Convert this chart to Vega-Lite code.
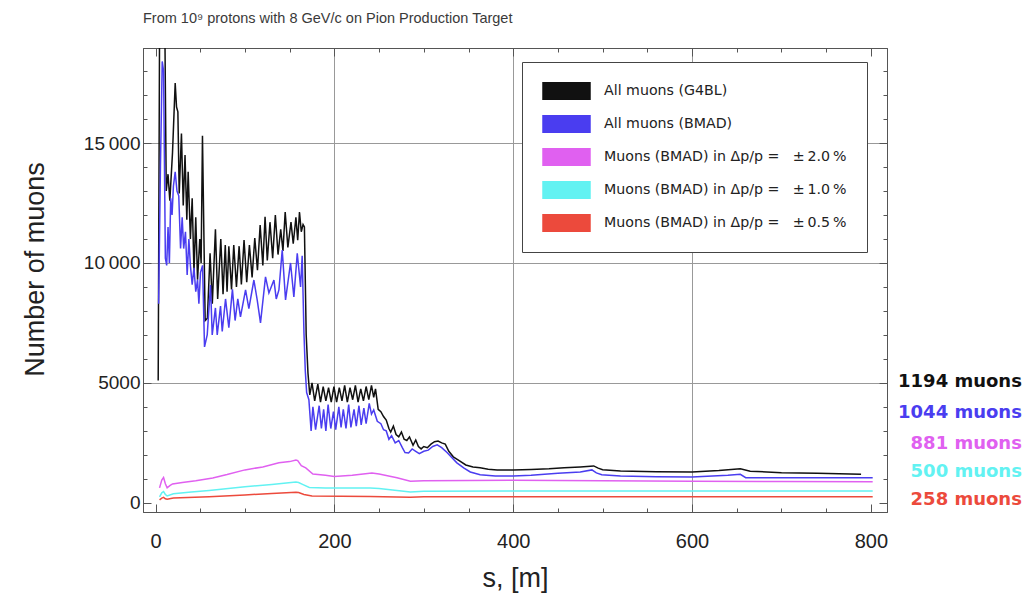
{
  "$schema": "https://vega.github.io/schema/vega-lite/v6.json",
  "width": 744,
  "height": 464,
  "autosize": {"type": "none"},
  "padding": {"left": 143, "top": 48, "right": 138, "bottom": 82},
  "background": "white",
  "config": {"view": {"stroke": "#555", "strokeWidth": 1}, "font": "Liberation Sans"},
  "title": {"text": "From 10⁹ protons with 8 GeV/c on Pion Production Target", "anchor": "start", "frame": "group", "fontSize": 14.5, "fontWeight": "normal", "color": "#3a3a3a", "font": "Liberation Sans", "baseline": "bottom", "offset": 7},
  "datasets": {
    "curves": [
      {"k":"G4BL","s":3,"n":5100},{"k":"G4BL","s":4.5,"n":19500},{"k":"G4BL","s":8,"n":19500},{"k":"G4BL","s":10.5,"n":19500},{"k":"G4BL","s":12,"n":13000},{"k":"G4BL","s":14,"n":13700},{"k":"G4BL","s":16,"n":12600},{"k":"G4BL","s":19,"n":14600},{"k":"G4BL","s":22,"n":17500},{"k":"G4BL","s":23.5,"n":16500},{"k":"G4BL","s":25,"n":16300},{"k":"G4BL","s":26.5,"n":12900},{"k":"G4BL","s":29,"n":15400},{"k":"G4BL","s":31,"n":12400},{"k":"G4BL","s":33,"n":14500},{"k":"G4BL","s":35,"n":11800},{"k":"G4BL","s":36.5,"n":13800},{"k":"G4BL","s":39,"n":11000},{"k":"G4BL","s":41,"n":12700},{"k":"G4BL","s":43,"n":9600},{"k":"G4BL","s":45,"n":11900},{"k":"G4BL","s":47,"n":9300},{"k":"G4BL","s":49.5,"n":11000},{"k":"G4BL","s":51,"n":10000},{"k":"G4BL","s":52.5,"n":15300},{"k":"G4BL","s":55.5,"n":7600},
      {"k":"G4BL","s":58,"n":7700},{"k":"G4BL","s":61,"n":10400},{"k":"G4BL","s":63.5,"n":8300},{"k":"G4BL","s":67,"n":11400},{"k":"G4BL","s":69.5,"n":8500},{"k":"G4BL","s":73,"n":11000},{"k":"G4BL","s":75.5,"n":8700},{"k":"G4BL","s":78,"n":10750},{"k":"G4BL","s":80,"n":8800},{"k":"G4BL","s":82,"n":10700},{"k":"G4BL","s":85,"n":8900},{"k":"G4BL","s":87.5,"n":10750},{"k":"G4BL","s":90.5,"n":9000},{"k":"G4BL","s":93.5,"n":10700},{"k":"G4BL","s":96,"n":9100},{"k":"G4BL","s":99,"n":10960},{"k":"G4BL","s":102,"n":9200},{"k":"G4BL","s":105,"n":10750},{"k":"G4BL","s":108,"n":9400},{"k":"G4BL","s":111,"n":11040},{"k":"G4BL","s":114,"n":9700},{"k":"G4BL","s":117,"n":11580},{"k":"G4BL","s":120,"n":9900},{"k":"G4BL","s":122.5,"n":11920},{"k":"G4BL","s":125,"n":10100},{"k":"G4BL","s":128,"n":11700},{"k":"G4BL","s":131,"n":10200},{"k":"G4BL","s":134,"n":12000},{"k":"G4BL","s":137,"n":10350},{"k":"G4BL","s":140,"n":11400},{"k":"G4BL","s":142.5,"n":10500},{"k":"G4BL","s":145,"n":12125},{"k":"G4BL","s":148,"n":10650},{"k":"G4BL","s":151.5,"n":11700},{"k":"G4BL","s":154,"n":10800},{"k":"G4BL","s":157,"n":11900},{"k":"G4BL","s":159,"n":10950},{"k":"G4BL","s":161,"n":12125},{"k":"G4BL","s":163,"n":11300},{"k":"G4BL","s":165,"n":11600},{"k":"G4BL","s":166.5,"n":11500},
      {"k":"G4BL","s":168.5,"n":7000},{"k":"G4BL","s":170.5,"n":5400},{"k":"G4BL","s":172.5,"n":4500},{"k":"G4BL","s":175,"n":5000},{"k":"G4BL","s":178,"n":4250},{"k":"G4BL","s":181.5,"n":4950},{"k":"G4BL","s":184.5,"n":4200},{"k":"G4BL","s":187.5,"n":4850},{"k":"G4BL","s":190.5,"n":4250},{"k":"G4BL","s":193.5,"n":4800},{"k":"G4BL","s":196.5,"n":4200},{"k":"G4BL","s":199.5,"n":4850},{"k":"G4BL","s":202.5,"n":4200},{"k":"G4BL","s":205.5,"n":4800},{"k":"G4BL","s":208.5,"n":4250},{"k":"G4BL","s":211.5,"n":4900},{"k":"G4BL","s":214.5,"n":4200},{"k":"G4BL","s":217.5,"n":4800},{"k":"G4BL","s":220.5,"n":4300},{"k":"G4BL","s":223.5,"n":4900},{"k":"G4BL","s":226.5,"n":4200},{"k":"G4BL","s":229.5,"n":4750},{"k":"G4BL","s":232.5,"n":4250},{"k":"G4BL","s":235.5,"n":4850},{"k":"G4BL","s":238.5,"n":4300},{"k":"G4BL","s":241.5,"n":4900},{"k":"G4BL","s":244,"n":4400},{"k":"G4BL","s":246,"n":4750},
      {"k":"G4BL","s":249,"n":3900},{"k":"G4BL","s":252,"n":3800},{"k":"G4BL","s":255,"n":3600},{"k":"G4BL","s":258,"n":3450},{"k":"G4BL","s":261,"n":3100},{"k":"G4BL","s":263,"n":2950},{"k":"G4BL","s":266,"n":3200},{"k":"G4BL","s":269,"n":2850},{"k":"G4BL","s":272,"n":2750},{"k":"G4BL","s":275,"n":2950},{"k":"G4BL","s":278,"n":2650},{"k":"G4BL","s":281,"n":2600},{"k":"G4BL","s":284,"n":2750},{"k":"G4BL","s":288,"n":2400},{"k":"G4BL","s":291,"n":2620},{"k":"G4BL","s":294,"n":2350},{"k":"G4BL","s":297,"n":2250},{"k":"G4BL","s":300,"n":2350},{"k":"G4BL","s":304,"n":2300},{"k":"G4BL","s":308,"n":2450},{"k":"G4BL","s":312,"n":2550},{"k":"G4BL","s":316,"n":2580},{"k":"G4BL","s":320,"n":2500},{"k":"G4BL","s":324,"n":2450},{"k":"G4BL","s":328,"n":2150},{"k":"G4BL","s":333,"n":1920},{"k":"G4BL","s":340,"n":1750},{"k":"G4BL","s":347,"n":1580},{"k":"G4BL","s":355,"n":1500},{"k":"G4BL","s":363,"n":1460},{"k":"G4BL","s":372,"n":1400},{"k":"G4BL","s":382,"n":1375},{"k":"G4BL","s":400,"n":1370},{"k":"G4BL","s":420,"n":1390},{"k":"G4BL","s":440,"n":1420},{"k":"G4BL","s":457,"n":1460},{"k":"G4BL","s":475,"n":1500},{"k":"G4BL","s":490,"n":1540},{"k":"G4BL","s":495,"n":1450},{"k":"G4BL","s":500,"n":1380},{"k":"G4BL","s":520,"n":1330},{"k":"G4BL","s":560,"n":1300},{"k":"G4BL","s":600,"n":1290},{"k":"G4BL","s":630,"n":1350},{"k":"G4BL","s":654,"n":1420},{"k":"G4BL","s":665,"n":1320},{"k":"G4BL","s":700,"n":1260},{"k":"G4BL","s":740,"n":1230},{"k":"G4BL","s":789,"n":1194},
      {"k":"BMAD","s":3.5,"n":8300},{"k":"BMAD","s":5.5,"n":14000},{"k":"BMAD","s":7.5,"n":18400},{"k":"BMAD","s":9,"n":18000},{"k":"BMAD","s":11,"n":10200},{"k":"BMAD","s":12.5,"n":9900},{"k":"BMAD","s":14,"n":11500},{"k":"BMAD","s":15.5,"n":10000},{"k":"BMAD","s":17,"n":12700},{"k":"BMAD","s":18.5,"n":12000},{"k":"BMAD","s":20,"n":13200},{"k":"BMAD","s":22,"n":13800},{"k":"BMAD","s":24,"n":13000},{"k":"BMAD","s":26,"n":12800},{"k":"BMAD","s":28,"n":10600},{"k":"BMAD","s":29.8,"n":11900},{"k":"BMAD","s":31.5,"n":10600},{"k":"BMAD","s":33.5,"n":11300},{"k":"BMAD","s":35.4,"n":9500},{"k":"BMAD","s":37.3,"n":11000},{"k":"BMAD","s":39,"n":9900},{"k":"BMAD","s":41,"n":9100},{"k":"BMAD","s":43,"n":9800},{"k":"BMAD","s":45,"n":8800},{"k":"BMAD","s":47,"n":9300},{"k":"BMAD","s":48.5,"n":8300},{"k":"BMAD","s":50.3,"n":9600},{"k":"BMAD","s":52.6,"n":9900},{"k":"BMAD","s":54.8,"n":6500},
      {"k":"BMAD","s":57.8,"n":7000},{"k":"BMAD","s":61.5,"n":9080},{"k":"BMAD","s":63.4,"n":7000},{"k":"BMAD","s":67,"n":8125},{"k":"BMAD","s":69,"n":7000},{"k":"BMAD","s":72.7,"n":8200},{"k":"BMAD","s":74.6,"n":7150},{"k":"BMAD","s":78.3,"n":8500},{"k":"BMAD","s":82,"n":7300},{"k":"BMAD","s":86,"n":8900},{"k":"BMAD","s":89,"n":7600},{"k":"BMAD","s":92,"n":8500},{"k":"BMAD","s":95,"n":7750},{"k":"BMAD","s":100.7,"n":8875},{"k":"BMAD","s":104.4,"n":8100},{"k":"BMAD","s":110,"n":9290},{"k":"BMAD","s":113.7,"n":8460},{"k":"BMAD","s":117.4,"n":7500},{"k":"BMAD","s":123,"n":9420},{"k":"BMAD","s":126.8,"n":8750},{"k":"BMAD","s":132.4,"n":9290},{"k":"BMAD","s":135,"n":8500},{"k":"BMAD","s":138,"n":8875},{"k":"BMAD","s":141.7,"n":10540},{"k":"BMAD","s":145.4,"n":8460},{"k":"BMAD","s":151,"n":10000},{"k":"BMAD","s":154.7,"n":8580},{"k":"BMAD","s":158.5,"n":10400},{"k":"BMAD","s":162.2,"n":9000},{"k":"BMAD","s":164,"n":10300},{"k":"BMAD","s":166,"n":7080},{"k":"BMAD","s":167.5,"n":5500},{"k":"BMAD","s":169,"n":4600},
      {"k":"BMAD","s":171.5,"n":4300},{"k":"BMAD","s":174,"n":3000},{"k":"BMAD","s":176,"n":4000},{"k":"BMAD","s":179,"n":3050},{"k":"BMAD","s":183,"n":4050},{"k":"BMAD","s":185.5,"n":3100},{"k":"BMAD","s":188,"n":3900},{"k":"BMAD","s":190.5,"n":3000},{"k":"BMAD","s":193,"n":4100},{"k":"BMAD","s":196,"n":3100},{"k":"BMAD","s":199,"n":3800},{"k":"BMAD","s":201.5,"n":3050},{"k":"BMAD","s":205,"n":4000},{"k":"BMAD","s":207.5,"n":3150},{"k":"BMAD","s":210,"n":3900},{"k":"BMAD","s":213,"n":3100},{"k":"BMAD","s":216,"n":4100},{"k":"BMAD","s":218.5,"n":3150},{"k":"BMAD","s":222,"n":3900},{"k":"BMAD","s":224.5,"n":3200},{"k":"BMAD","s":227.5,"n":4050},{"k":"BMAD","s":230,"n":3250},{"k":"BMAD","s":233,"n":3950},{"k":"BMAD","s":235.5,"n":3300},{"k":"BMAD","s":239,"n":4150},{"k":"BMAD","s":241.5,"n":3700},{"k":"BMAD","s":244,"n":3875},
      {"k":"BMAD","s":248,"n":3400},{"k":"BMAD","s":252,"n":3300},{"k":"BMAD","s":255,"n":3050},{"k":"BMAD","s":258,"n":3000},{"k":"BMAD","s":261,"n":2650},{"k":"BMAD","s":264,"n":2800},{"k":"BMAD","s":268,"n":2500},{"k":"BMAD","s":272,"n":2600},{"k":"BMAD","s":276,"n":2300},{"k":"BMAD","s":279,"n":2100},{"k":"BMAD","s":283,"n":2080},{"k":"BMAD","s":287,"n":2250},{"k":"BMAD","s":291,"n":2150},{"k":"BMAD","s":295,"n":2050},{"k":"BMAD","s":300,"n":2150},{"k":"BMAD","s":305,"n":2200},{"k":"BMAD","s":310,"n":2350},{"k":"BMAD","s":315,"n":2420},{"k":"BMAD","s":320,"n":2300},{"k":"BMAD","s":326,"n":2100},{"k":"BMAD","s":331,"n":1900},{"k":"BMAD","s":337,"n":1670},{"k":"BMAD","s":345,"n":1450},{"k":"BMAD","s":352,"n":1290},{"k":"BMAD","s":363,"n":1170},{"k":"BMAD","s":380,"n":1120},{"k":"BMAD","s":400,"n":1120},{"k":"BMAD","s":420,"n":1150},{"k":"BMAD","s":450,"n":1230},{"k":"BMAD","s":475,"n":1290},{"k":"BMAD","s":488,"n":1375},{"k":"BMAD","s":493,"n":1250},{"k":"BMAD","s":499,"n":1170},{"k":"BMAD","s":520,"n":1120},{"k":"BMAD","s":560,"n":1090},{"k":"BMAD","s":600,"n":1080},{"k":"BMAD","s":640,"n":1150},{"k":"BMAD","s":654,"n":1190},{"k":"BMAD","s":660,"n":1050},{"k":"BMAD","s":700,"n":1045},{"k":"BMAD","s":750,"n":1044},{"k":"BMAD","s":802,"n":1044},
      {"k":"2.0","s":4.5,"n":625},{"k":"2.0","s":7,"n":950},{"k":"2.0","s":9,"n":1060},{"k":"2.0","s":11,"n":800},{"k":"2.0","s":13,"n":625},{"k":"2.0","s":16,"n":720},{"k":"2.0","s":19,"n":790},{"k":"2.0","s":30,"n":850},{"k":"2.0","s":45,"n":920},{"k":"2.0","s":64,"n":1040},{"k":"2.0","s":80,"n":1180},{"k":"2.0","s":100,"n":1375},{"k":"2.0","s":120,"n":1500},{"k":"2.0","s":138,"n":1670},{"k":"2.0","s":150,"n":1720},{"k":"2.0","s":157,"n":1790},{"k":"2.0","s":159,"n":1760},{"k":"2.0","s":163,"n":1550},{"k":"2.0","s":168,"n":1460},{"k":"2.0","s":176,"n":1200},{"k":"2.0","s":190,"n":1150},{"k":"2.0","s":200,"n":1100},{"k":"2.0","s":220,"n":1150},{"k":"2.0","s":242,"n":1250},{"k":"2.0","s":250,"n":1200},{"k":"2.0","s":270,"n":1050},{"k":"2.0","s":285,"n":900},{"k":"2.0","s":300,"n":920},{"k":"2.0","s":350,"n":930},{"k":"2.0","s":400,"n":940},{"k":"2.0","s":500,"n":920},{"k":"2.0","s":600,"n":900},{"k":"2.0","s":700,"n":890},{"k":"2.0","s":802,"n":881},
      {"k":"1.0","s":4.5,"n":250},{"k":"1.0","s":7,"n":420},{"k":"1.0","s":9,"n":470},{"k":"1.0","s":11,"n":350},{"k":"1.0","s":13,"n":290},{"k":"1.0","s":20,"n":380},{"k":"1.0","s":40,"n":450},{"k":"1.0","s":60,"n":520},{"k":"1.0","s":100,"n":670},{"k":"1.0","s":130,"n":770},{"k":"1.0","s":157,"n":870},{"k":"1.0","s":160,"n":850},{"k":"1.0","s":165,"n":760},{"k":"1.0","s":172,"n":640},{"k":"1.0","s":190,"n":620},{"k":"1.0","s":240,"n":625},{"k":"1.0","s":250,"n":600},{"k":"1.0","s":285,"n":450},{"k":"1.0","s":300,"n":480},{"k":"1.0","s":400,"n":500},{"k":"1.0","s":600,"n":500},{"k":"1.0","s":802,"n":500},
      {"k":"0.5","s":4.5,"n":125},{"k":"0.5","s":7,"n":200},{"k":"0.5","s":9,"n":230},{"k":"0.5","s":11,"n":170},{"k":"0.5","s":13,"n":150},{"k":"0.5","s":20,"n":200},{"k":"0.5","s":60,"n":260},{"k":"0.5","s":100,"n":330},{"k":"0.5","s":130,"n":390},{"k":"0.5","s":157,"n":440},{"k":"0.5","s":160,"n":430},{"k":"0.5","s":166,"n":350},{"k":"0.5","s":175,"n":290},{"k":"0.5","s":240,"n":265},{"k":"0.5","s":285,"n":235},{"k":"0.5","s":300,"n":255},{"k":"0.5","s":500,"n":258},{"k":"0.5","s":802,"n":258}
    ],
    "ends": [
      {"k":"G4BL","s":800,"n":5040,"t":"1194 muons"},
      {"k":"BMAD","s":800,"n":3750,"t":"1044 muons"},
      {"k":"2.0","s":800,"n":2455,"t":"881 muons"},
      {"k":"1.0","s":800,"n":1290,"t":"500 muons"},
      {"k":"0.5","s":800,"n":120,"t":"258 muons"}
    ]
  },
  "layer": [
    {
      "data": {"name": "curves"},
      "mark": {"type": "line", "clip": true, "strokeJoin": "miter"},
      "encoding": {
        "x": {"field": "s", "type": "quantitative", "sort": null,
          "scale": {"domain": [-14, 818], "nice": false, "zero": false},
          "axis": {"orient": "bottom", "title": "s, [m]",
            "values": [0,50,100,150,200,250,300,350,400,450,500,550,600,650,700,750,800],
            "labelExpr": "datum.value % 200 === 0 ? format(datum.value, 'd') : ''",
            "labelFont": "Liberation Sans", "labelFontSize": 20, "labelColor": "#222",
            "labelPadding": 27, "labelFlush": false, "labelOverlap": false, "labelBaseline": "top",
            "tickSize": {"condition": {"test": "datum.value % 200 === 0", "value": -8}, "value": -4},
            "tickColor": "#555", "domainColor": "#555",
            "grid": true, "gridColor": "#999", "gridWidth": 1,
            "gridOpacity": {"condition": {"test": "datum.value === 200 || datum.value === 400 || datum.value === 600", "value": 1}, "value": 0},
            "titleFont": "Liberation Sans", "titleFontSize": 27, "titleFontWeight": "normal", "titleColor": "#222",
            "titleY": 66, "titleBaseline": "middle"}},
        "y": {"field": "n", "type": "quantitative",
          "scale": {"domain": [-380, 18960], "nice": false, "zero": false},
          "axis": {"orient": "left", "title": "Number of muons",
            "values": [0,1000,2000,3000,4000,5000,6000,7000,8000,9000,10000,11000,12000,13000,14000,15000,16000,17000,18000],
            "labelExpr": "datum.value % 5000 === 0 ? (datum.value >= 10000 ? format(datum.value / 1000, 'd') + '\u2009000' : format(datum.value, 'd')) : ''",
            "labelFont": "Liberation Sans", "labelFontSize": 19, "labelColor": "#222",
            "labelPadding": 11, "labelFlush": false, "labelOverlap": false,
            "tickSize": {"condition": {"test": "datum.value % 5000 === 0", "value": -8}, "value": -4},
            "tickColor": "#555", "domainColor": "#555",
            "grid": true, "gridColor": "#999", "gridWidth": 1,
            "gridOpacity": {"condition": {"test": "datum.value === 5000 || datum.value === 10000 || datum.value === 15000", "value": 1}, "value": 0},
            "titleFont": "Liberation Sans", "titleFontSize": 27, "titleFontWeight": "normal", "titleColor": "#222",
            "titleX": -108, "titleY": 221, "titleBaseline": "middle", "titleAlign": "center", "titleAngle": -90}},
        "color": {"field": "k", "type": "nominal",
          "scale": {"domain": ["G4BL", "BMAD", "2.0", "1.0", "0.5"], "range": ["#111111", "#4a3df0", "#e060f0", "#62f2f2", "#ec4a3c"]},
          "legend": {"orient": "none", "legendX": 379, "legendY": 14, "title": null,
            "symbolType": "M-1,-0.38H1V0.38H-1Z", "symbolSize": 2209, "symbolStrokeWidth": 0,
            "clipHeight": 18,
            "labelFont": "DejaVu Sans", "labelFontSize": 14.2, "labelColor": "#222", "labelOffset": 13, "labelLimit": 400,
            "rowPadding": 15, "padding": 20, "strokeColor": "#444", "fillColor": "white",
            "labelExpr": "datum.value === 'G4BL' ? 'All muons (G4BL)' : datum.value === 'BMAD' ? 'All muons (BMAD)' : 'Muons (BMAD) in Δp/p =\u00a0\u00a0\u00a0\u00b1\u2009' + datum.value + '\u2009%\u00a0\u00a0\u00a0'",
            "encode": {"symbols": {"update": {"fill": {"scale": "color", "field": "value"}, "stroke": {"value": "transparent"}, "opacity": {"value": 1}}}}}},
        "strokeWidth": {"field": "k", "type": "nominal",
          "scale": {"domain": ["G4BL", "BMAD", "2.0", "1.0", "0.5"], "range": [1.5, 1.5, 2.6, 2.6, 2.6]},
          "legend": null}
      }
    },
    {
      "data": {"name": "ends"},
      "mark": {"type": "text", "align": "right", "baseline": "middle", "dx": 151, "font": "DejaVu Sans", "fontWeight": "bold", "fontSize": 18},
      "encoding": {
        "x": {"field": "s", "type": "quantitative",
          "scale": {"domain": [-14, 818], "nice": false, "zero": false},
          "axis": {"orient": "top", "title": null, "labels": false,
            "values": [0,50,100,150,200,250,300,350,400,450,500,550,600,650,700,750,800],
            "tickSize": {"condition": {"test": "datum.value % 200 === 0", "value": -8}, "value": -4},
            "tickColor": "#555", "domainColor": "#555", "grid": false}},
        "y": {"field": "n", "type": "quantitative",
          "scale": {"domain": [-380, 18960], "nice": false, "zero": false},
          "axis": {"orient": "right", "title": null, "labels": false,
            "values": [0,1000,2000,3000,4000,5000,6000,7000,8000,9000,10000,11000,12000,13000,14000,15000,16000,17000,18000],
            "tickSize": {"condition": {"test": "datum.value % 5000 === 0", "value": -8}, "value": -4},
            "tickColor": "#555", "domainColor": "#555", "grid": false}},
        "text": {"field": "t", "type": "nominal"},
        "color": {"field": "k", "type": "nominal", "legend": null,
          "scale": {"domain": ["G4BL", "BMAD", "2.0", "1.0", "0.5"], "range": ["#111111", "#4a3df0", "#e060f0", "#62f2f2", "#ec4a3c"]}}
      }
    }
  ],
  "resolve": {"axis": {"x": "independent", "y": "independent"}}
}
